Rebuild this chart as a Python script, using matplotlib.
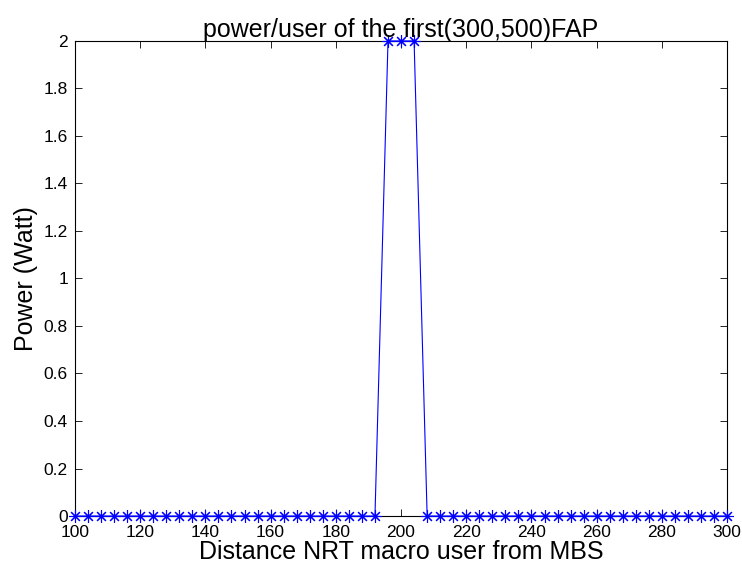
import matplotlib
matplotlib.use("Agg")
import matplotlib.pyplot as plt

plt.rcParams['font.family'] = ['Liberation Sans', 'DejaVu Sans']

distance = list(range(100, 301, 4))
power = [0.0] * len(distance)
for i, d in enumerate(distance):
    if d in (196, 200, 204):
        power[i] = 2.0

xticks = list(range(100, 301, 20))
yticks = [0, 0.2, 0.4, 0.6, 0.8, 1, 1.2, 1.4, 1.6, 1.8, 2]
ytick_labels = ['0', '0.2', '0.4', '0.6', '0.8', '1', '1.2', '1.4', '1.6', '1.8', '2']

fig = plt.figure(figsize=(7.42, 5.71), dpi=100)
ax = fig.add_axes([0.101, 0.0963, 0.879, 0.832])
ax.plot(distance, power, color='blue', marker=(8, 2, 0), markersize=9, linewidth=0.8,
        markeredgewidth=0.8, clip_on=False, zorder=3)
ax.set_xlim(100, 300)
ax.set_ylim(0, 2)
ax.set_xticks(xticks)
ax.set_yticks(yticks)
ax.set_yticklabels(ytick_labels)
ax.tick_params(direction='in', top=True, right=True, labelsize=12.5, length=5, width=0.6)
ax.tick_params(axis='x', pad=6.5)
ax.tick_params(axis='y', pad=5)
for s in ax.spines.values():
    s.set_linewidth(0.8)
ax.set_title('power/user of the first(300,500)FAP', fontsize=18, pad=3)
ax.set_xlabel('Distance NRT macro user from MBS', fontsize=18, labelpad=0)
ax.set_ylabel('Power (Watt)', fontsize=18, labelpad=4)
fig.savefig('out.png', dpi=100)
